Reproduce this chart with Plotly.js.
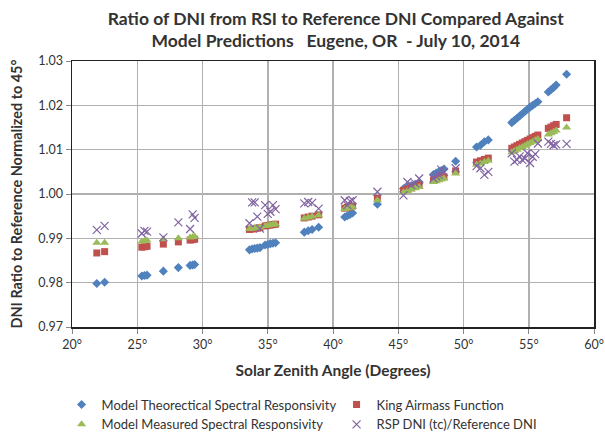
<!DOCTYPE html>
<html><head><meta charset="utf-8">
<script src="https://cdn.plot.ly/plotly-3.0.1.min.js"></script>
<style>html,body{margin:0;padding:0;background:#fff}#chart{width:605px;height:433px}</style>
</head><body><div id="chart"></div>
<script>
const zenith = [21.9,22.5,25.35,25.55,25.75,27.0,28.15,29.05,29.25,29.4,
 33.6,33.8,34.0,34.2,34.4,34.8,35.0,35.2,35.4,35.6,
 37.8,38.1,38.4,38.9,
 40.9,41.1,41.3,41.5,43.4,
 45.4,45.7,46.0,46.3,46.6,
 47.7,47.9,48.1,48.3,48.5,49.4,
 51.0,51.3,51.6,51.9,
 53.7,53.9,54.1,54.3,54.5,54.7,54.9,55.1,55.3,55.5,55.7,
 56.5,56.7,56.9,57.1,57.9];
const modelTheoretical = [0.9798,0.9801,0.9815,0.9816,0.9817,0.9826,0.9834,0.9839,0.9840,0.9841,
 0.9874,0.9876,0.9877,0.9878,0.9879,0.9885,0.9886,0.9888,0.9889,0.9890,
 0.9914,0.9917,0.9920,0.9925,
 0.9948,0.9951,0.9954,0.9957,0.9977,
 1.0012,1.0016,1.0019,1.0022,1.0025,
 1.0044,1.0047,1.0050,1.0053,1.0056,1.0074,
 1.0106,1.0110,1.0118,1.0122,
 1.0161,1.0166,1.0171,1.0176,1.0181,1.0186,1.0191,1.0196,1.0200,1.0204,1.0208,
 1.0230,1.0235,1.0240,1.0246,1.0270];
const kingAirmass = [0.9867,0.9870,0.9880,0.9881,0.9882,0.9887,0.9892,0.9896,0.9897,0.9898,
 0.9920,0.9921,0.9922,0.9923,0.9924,0.9928,0.9929,0.9930,0.9931,0.9932,
 0.9946,0.9948,0.9950,0.9953,
 0.9968,0.9970,0.9971,0.9973,0.9990,
 1.0008,1.0011,1.0014,1.0017,1.0020,
 1.0031,1.0033,1.0035,1.0037,1.0039,1.0052,
 1.0072,1.0075,1.0078,1.0081,
 1.0103,1.0106,1.0109,1.0112,1.0115,1.0118,1.0121,1.0124,1.0127,1.0130,1.0133,
 1.0148,1.0151,1.0154,1.0157,1.0172];
const modelMeasured = [0.9890,0.9890,0.9893,0.9894,0.9895,0.9898,0.9900,0.9902,0.9903,0.9904,
 0.9921,0.9922,0.9923,0.9924,0.9925,0.9928,0.9929,0.9930,0.9931,0.9932,
 0.9945,0.9947,0.9949,0.9952,
 0.9966,0.9968,0.9969,0.9971,0.9986,
 1.0004,1.0007,1.0010,1.0013,1.0016,
 1.0027,1.0029,1.0031,1.0033,1.0035,1.0046,
 1.0066,1.0069,1.0072,1.0075,
 1.0094,1.0097,1.0100,1.0103,1.0106,1.0109,1.0112,1.0115,1.0118,1.0121,1.0124,
 1.0134,1.0137,1.0140,1.0143,1.0150];
const rspRatio = [0.9919,0.9928,0.9911,0.9917,0.9915,0.9902,0.9936,0.9921,0.9954,0.9946,
 0.9934,0.9981,0.9981,0.9949,0.9922,0.9975,0.9955,0.9960,0.9975,0.9966,
 0.9979,0.9982,0.9980,0.9967,
 0.9986,0.9975,0.9984,0.9986,1.0005,
 0.9997,1.0027,1.0020,1.0024,1.0035,
 1.0035,1.0040,1.0043,1.0055,1.0050,1.0058,
 1.0063,1.0058,1.0043,1.0050,
 1.0092,1.0073,1.0077,1.0085,1.0077,1.0080,1.0092,1.0070,1.0084,1.0090,1.0114,
 1.0118,1.0113,1.0110,1.0112,1.0113];
const seriesNames = ['Model Theorectical Spectral Responsivity','King Airmass Function','Model Measured Spectral Responsivity','RSP DNI (tc)/Reference DNI'];
const xTicks = [20,25,30,35,40,45,50,55,60];
const yTicks = [0.97,0.98,0.99,1.00,1.01,1.02,1.03];

const F = 'Lato, "Open Sans", sans-serif';
const traces = [
 {x: zenith, y: modelTheoretical, name: seriesNames[0], mode:'markers', type:'scatter',
  marker:{symbol:'diamond', size:7, color:'#4F81BD'}},
 {x: zenith, y: kingAirmass, name: seriesNames[1], mode:'markers', type:'scatter',
  marker:{symbol:'square', size:7, color:'#C0504D'}},
 {x: zenith, y: modelMeasured, name: seriesNames[2], mode:'markers', type:'scatter',
  marker:{symbol:'triangle-up', size:8, color:'#9BBB59'}},
 {x: zenith, y: rspRatio, name: seriesNames[3], mode:'markers', type:'scatter',
  marker:{symbol:'x-thin-open', size:8, color:'#8064A2', line:{width:1.2, color:'#8064A2'}}}
];
const layout = {
 width:605, height:433,
 margin:{l:72, r:11, t:61, b:106, autoexpand:false},
 paper_bgcolor:'#fff', plot_bgcolor:'#fff',
 font:{family:F, color:'#333', size:12},
 title:{text:'<b>Ratio of DNI from RSI to Reference DNI Compared Against</b><br><b>Model Predictions   Eugene, OR  - July 10, 2014</b>',
  font:{family:F, size:17.5, color:'#333'}, x:0.555, xanchor:'center', yref:'container', y:0.943, yanchor:'top'},
 xaxis:{range:[20,60], tickvals:xTicks, ticktext:xTicks.map(v=>v+'°'),
  showgrid:true, gridcolor:'#b0b0b0', gridwidth:1.5,
  showline:true, linecolor:'#222', linewidth:1.5, mirror:true,
  ticks:'outside', ticklen:5, tickcolor:'#888', zeroline:false, ticklabeloverflow:'allow',
  tickfont:{family:F, size:12.5, color:'#333'},
  title:{text:'<b>Solar Zenith Angle (Degrees)</b>', font:{family:F, size:15.5, color:'#333'}, standoff:14}},
 yaxis:{range:[0.97,1.03], tickvals:yTicks, ticktext:yTicks.map(v=>v.toFixed(2)),
  showgrid:true, gridcolor:'#b0b0b0', gridwidth:1.5,
  showline:true, linecolor:'#222', linewidth:1.5, mirror:true,
  ticks:'outside', ticklen:5, tickcolor:'#888', zeroline:false,
  tickfont:{family:F, size:12.5, color:'#333'},
  title:{text:'<b>DNI Ratio to Reference Normalized to 45°</b>', font:{family:F, size:14.4, color:'#333'}, standoff:12}},
 showlegend:true,
 legend:{orientation:'h', x:-0.02, xanchor:'left', y:-0.235, yanchor:'top',
  entrywidth:230, entrywidthmode:'pixels', font:{family:F, size:13, color:'#333'},
  tracegroupgap:0, itemwidth:30, bgcolor:'rgba(0,0,0,0)'}
};
Plotly.newPlot('chart', traces, layout, {displayModeBar:false, staticPlot:true});
</script></body></html>
